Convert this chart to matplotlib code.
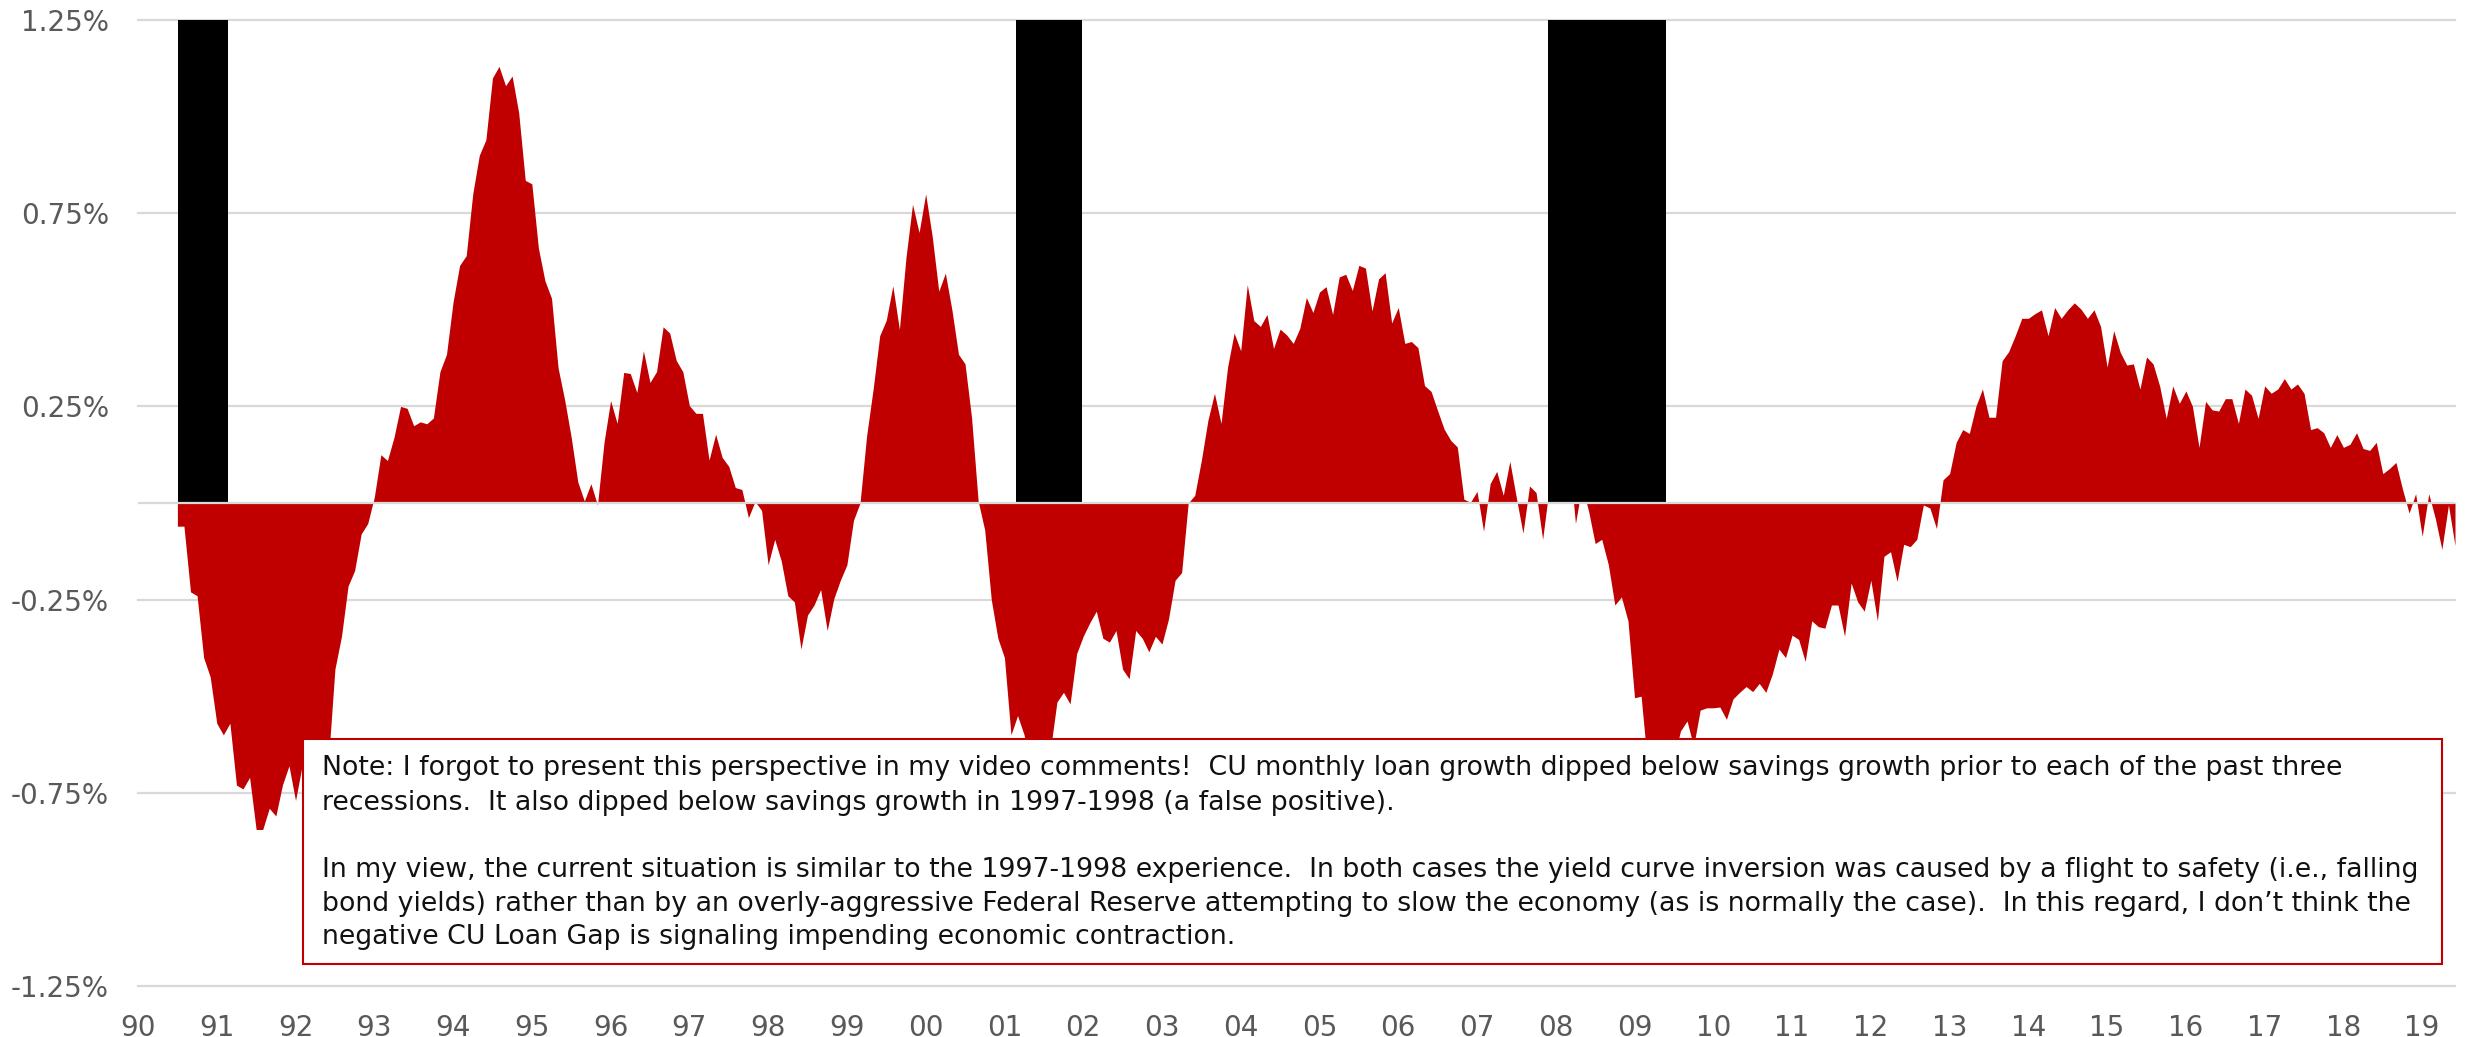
import matplotlib
matplotlib.use("Agg")
import matplotlib.pyplot as plt
from matplotlib.patches import Rectangle
import numpy as np

# ---------------- data ----------------
first_year, first_month = 1990, 7   # first monthly observation: Jul 1990

# CU loan gap (loan growth minus savings growth, % per month), monthly
loan_gap = [
    -0.06, -0.06, -0.23, -0.24, -0.40, -0.45,                                       # 1990 H2
    -0.57, -0.60, -0.57, -0.73, -0.74, -0.71, -0.845, -0.845, -0.79, -0.81, -0.73, -0.68,  # 1991
    -0.77, -0.68, -0.80, -0.72, -0.78, -0.67, -0.43, -0.345, -0.215, -0.175, -0.08, -0.053,  # 1992
    0.015, 0.125, 0.11, 0.17, 0.25, 0.245, 0.20, 0.21, 0.205, 0.22, 0.34, 0.385,     # 1993
    0.52, 0.615, 0.64, 0.80, 0.90, 0.94, 1.10, 1.13, 1.08, 1.105, 1.01, 0.835,       # 1994
    0.826, 0.66, 0.575, 0.53, 0.35, 0.267, 0.17, 0.055, 0.005, 0.05, -0.005, 0.157,  # 1995
    0.265, 0.206, 0.338, 0.335, 0.286, 0.394, 0.312, 0.34, 0.456, 0.44, 0.369, 0.34, # 1996
    0.252, 0.232, 0.232, 0.111, 0.178, 0.118, 0.095, 0.04, 0.035, -0.038, 0.004, -0.019,  # 1997
    -0.16, -0.094, -0.15, -0.24, -0.256, -0.378, -0.29, -0.264, -0.224, -0.33, -0.248, -0.20,  # 1998
    -0.16, -0.045, 0.0, 0.173, 0.295, 0.433, 0.473, 0.562, 0.449, 0.635, 0.773, 0.70,  # 1999
    0.80, 0.69, 0.548, 0.595, 0.50, 0.385, 0.36, 0.22, 0.005, -0.07, -0.25, -0.35,   # 2000
    -0.40, -0.60, -0.55, -0.60, -0.68, -0.72, -0.66, -0.64, -0.515, -0.49, -0.52, -0.39,  # 2001
    -0.345, -0.31, -0.28, -0.35, -0.36, -0.33, -0.43, -0.455, -0.33, -0.35, -0.385, -0.345,  # 2002
    -0.365, -0.30, -0.20, -0.18, 0.0, 0.02, 0.11, 0.214, 0.284, 0.206, 0.352, 0.44,  # 2003
    0.394, 0.565, 0.472, 0.457, 0.488, 0.40, 0.45, 0.435, 0.413, 0.452, 0.532, 0.493,  # 2004
    0.546, 0.56, 0.488, 0.585, 0.592, 0.55, 0.615, 0.608, 0.497, 0.58, 0.596, 0.466,  # 2005
    0.506, 0.413, 0.418, 0.402, 0.304, 0.289, 0.239, 0.191, 0.162, 0.145, 0.01, 0.002,  # 2006
    0.03, -0.073, 0.05, 0.082, 0.02, 0.108, 0.013, -0.078, 0.044, 0.027, -0.094, 0.04,  # 2007
    0.0, 0.066, 0.13, -0.053, 0.045, -0.021, -0.105, -0.094, -0.159, -0.264, -0.243, -0.305,  # 2008
    -0.504, -0.50, -0.68, -0.72, -0.70, -0.74, -0.66, -0.59, -0.564, -0.63, -0.536, -0.53,  # 2009
    -0.53, -0.528, -0.56, -0.507, -0.49, -0.475, -0.488, -0.467, -0.49, -0.442, -0.378, -0.40,  # 2010
    -0.342, -0.353, -0.41, -0.305, -0.32, -0.324, -0.264, -0.264, -0.345, -0.207, -0.256, -0.28,  # 2011
    -0.20, -0.305, -0.138, -0.126, -0.203, -0.107, -0.113, -0.094, -0.005, -0.013, -0.066, 0.06,  # 2012
    0.076, 0.157, 0.19, 0.18, 0.25, 0.295, 0.222, 0.222, 0.368, 0.392, 0.433, 0.478,  # 2013
    0.478, 0.49, 0.50, 0.433, 0.506, 0.478, 0.50, 0.518, 0.502, 0.478, 0.50, 0.457,  # 2014
    0.352, 0.446, 0.39, 0.357, 0.36, 0.295, 0.378, 0.36, 0.303, 0.219, 0.303, 0.258,  # 2015
    0.29, 0.25, 0.144, 0.263, 0.241, 0.238, 0.27, 0.27, 0.206, 0.295, 0.279, 0.219,  # 2016
    0.303, 0.284, 0.295, 0.322, 0.295, 0.308, 0.284, 0.19, 0.195, 0.182, 0.144, 0.177,  # 2017
    0.144, 0.152, 0.182, 0.141, 0.136, 0.157, 0.076, 0.089, 0.105, 0.036, -0.026, 0.024,  # 2018
    -0.086, 0.024, -0.04, -0.12, -0.005, -0.11,                                       # 2019 H1
]

# recession periods (decimal years) shown as black bars
rec_start = [1990.51, 2001.15, 2007.90]
rec_end = [1991.14, 2001.98, 2009.40]
rec_height = [1.25, 1.25, 1.25]

ytick_vals = [-1.25, -0.75, -0.25, 0.25, 0.75, 1.25]
ytick_labels = ["-1.25%", "-0.75%", "-0.25%", "0.25%", "0.75%", "1.25%"]
xtick_years = list(range(1990, 2020))
xtick_labels = ["90", "91", "92", "93", "94", "95", "96", "97", "98", "99",
                "00", "01", "02", "03", "04", "05", "06", "07", "08", "09",
                "10", "11", "12", "13", "14", "15", "16", "17", "18", "19"]

note_lines = [
    "Note: I forgot to present this perspective in my video comments!  CU monthly loan growth dipped below savings growth prior to each of the past three",
    "recessions.  It also dipped below savings growth in 1997-1998 (a false positive).",
    "In my view, the current situation is similar to the 1997-1998 experience.  In both cases the yield curve inversion was caused by a flight to safety (i.e., falling",
    "bond yields) rather than by an overly-aggressive Federal Reserve attempting to slow the economy (as is normally the case).  In this regard, I don\u2019t think the",
    "negative CU Loan Gap is signaling impending economic contraction.",
]

# ---------------- styling ----------------
RED = "#C00000"
GRID = "#d9d9d9"
TICK = "#595959"
W, H = 2471, 1037

plt.rcParams["font.family"] = ["DejaVu Sans"]

fig = plt.figure(figsize=(W / 100, H / 100), dpi=100)
fig.patch.set_facecolor("white")
ax = fig.add_axes([138 / W, 1 - 986 / H, (2455 - 138) / W, (986 - 20) / H])

x = first_year + (first_month - 1) / 12 + np.arange(len(loan_gap)) / 12

for v in ytick_vals:
    ax.axhline(v, color=GRID, lw=1.6, zorder=0.5, clip_on=False)

ax.fill_between(x, 0, loan_gap, color=RED, lw=0, zorder=2)
ax.bar(rec_start, rec_height, width=np.array(rec_end) - np.array(rec_start),
       align="edge", color="black", lw=0, zorder=2)
ax.axhline(0, color=GRID, lw=1.6, zorder=3)

ax.set_xlim(1990, x[-1])
ax.set_ylim(-1.25, 1.25)
for s in ax.spines.values():
    s.set_visible(False)

ax.set_yticks(ytick_vals)
ax.set_yticklabels(ytick_labels)
ax.set_xticks(xtick_years)
ax.set_xticklabels(xtick_labels)
ax.tick_params(axis="both", length=0, labelsize=20, labelcolor=TICK)
ax.tick_params(axis="y", pad=21)
ax.tick_params(axis="x", pad=20)

# note box
box_l, box_r, box_t, box_b = 302.5, 2441.6, 738.6, 963.7
fig.patches.append(Rectangle((box_l / W, 1 - box_b / H), (box_r - box_l) / W, (box_b - box_t) / H,
                             transform=fig.transFigure, facecolor="white",
                             edgecolor=RED, lw=1.5, zorder=5))
baselines = [775.4, 810.0, 877.0, 911.4, 944.5]
for line, yb in zip(note_lines, baselines):
    fig.text(322 / W, 1 - yb / H, line, ha="left", va="baseline",
             fontsize=19.3, color="#111111", zorder=6)

fig.savefig("out.png", dpi=100, facecolor="white")
